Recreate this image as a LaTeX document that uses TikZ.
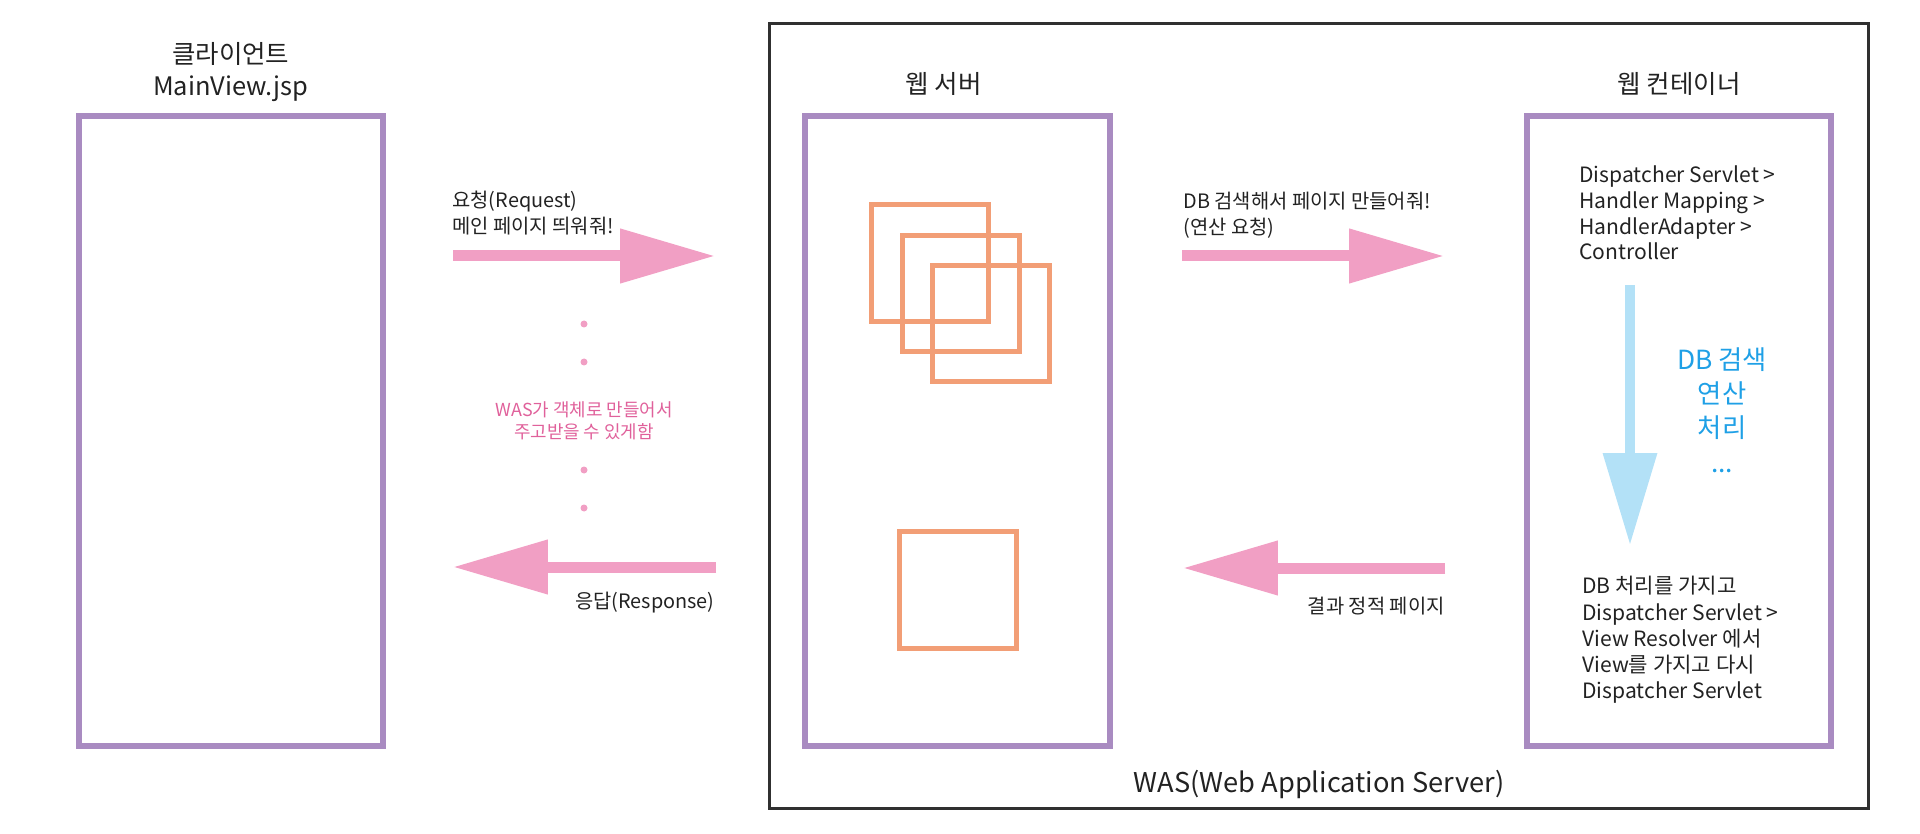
\documentclass[tikz,border=0pt]{standalone}
\usepackage{fontspec}
\setmainfont{Noto Sans CJK KR}
\usetikzlibrary{positioning,arrows.meta}

\definecolor{boxpurple}{HTML}{A98BC1}
\definecolor{sqorange}{HTML}{F29E76}
\definecolor{arrowpink}{HTML}{F19FC4}
\definecolor{notepink}{HTML}{E0619B}
\definecolor{flowblue}{HTML}{B3E1F7}
\definecolor{textblue}{HTML}{1FA0E6}
\definecolor{wasgray}{HTML}{303030}
\definecolor{ink}{HTML}{222222}

\begin{document}
\begin{tikzpicture}[
    x=0.02cm, y=-0.02cm,
    tier/.style={rectangle, draw=boxpurple, line width=0.12cm, minimum width=6.09cm, minimum height=12.59cm, outer sep=0pt},
    sq/.style={rectangle, draw=sqorange, line width=0.1cm, minimum size=2.34cm, outer sep=0pt},
    title/.style={align=center, inner sep=0pt, text=ink, font=\fontsize{14.5}{18}\selectfont},
    lbl/.style={align=left, inner sep=0pt, text=ink, font=\fontsize{11.3}{14.7}\selectfont},
    note/.style={align=center, inner sep=0pt, text=notepink, font=\fontsize{10.2}{12.5}\selectfont},
    fatarrow/.style={line width=0.22cm, draw=arrowpink, -{Triangle[length=1.9cm, width=1.04cm]}},
    downarrow/.style={line width=0.2cm, draw=flowblue, -{Triangle[length=1.84cm, width=1.04cm]}}
]
    \useasboundingbox (0,0) rectangle (1920,834);

    % WAS 테두리
    \node[rectangle, draw=wasgray, line width=0.06cm, minimum width=21.98cm, minimum height=15.71cm, outer sep=0pt] (was) at (1319,416) {};
    \node[title, font=\fontsize{15.5}{18}\selectfont] (waslbl) at (1319,784) {WAS(Web Application Server)};

    % 세 개의 박스
    \node[tier] (client) at (230.75,431) {};
    \node[tier] (websrv) at (957.5,431) {};
    \node[tier] (webcon) at (1679,431) {};

    \node[title, above=0.29cm of client] (clientlbl) {클라이언트\\MainView.jsp};
    \node[title, above=0.4cm of websrv, xshift=-0.28cm] (srvlbl) {웹 서버};
    \node[title, above=0.4cm of webcon] (conlbl) {웹 컨테이너};

    % 웹 서버 안의 네모들
    \foreach \i/\x/\y in {1/930/263, 2/961/293.5, 3/991/323.5}
        \node[sq] (sq\i) at (\x,\y) {};
    \node[sq] (sqpage) at (958,590) {};

    % 화살표 끝점
    \coordinate (reqS) at (453,256);
    \coordinate (reqE) at (715,256);
    \coordinate (resS) at (716,567);
    \coordinate (resE) at (453,567);
    \coordinate (dbS) at (1182,256);
    \coordinate (dbE) at (1444,256);
    \coordinate (retS) at (1445,568);
    \coordinate (retE) at (1183,568);
    \coordinate (flowS) at (1630,285);
    \coordinate (flowE) at (1630,545);

    \draw[fatarrow] (reqS) -- (reqE);
    \draw[fatarrow] (resS) -- (resE);
    \draw[fatarrow] (dbS) -- (dbE);
    \draw[fatarrow] (retS) -- (retE);
    \draw[downarrow] (flowS) -- (flowE);

    % 라벨
    \node[lbl, anchor=west] (reqlbl) at (452,213) {요청(Request)\\메인 페이지 띄워줘!};
    \node[lbl, anchor=east] (reslbl) at (715,603) {응답(Response)};
    \node[lbl, anchor=west] (dblbl) at (1183,215) {DB 검색해서 페이지 만들어줘!\\(연산 요청)};
    \node[lbl, anchor=east] (retlbl) at (1445,606) {결과 정적 페이지};

    \node[lbl, anchor=west, font=\fontsize{12}{14.7}\selectfont] (chain) at (1579,213) {Dispatcher Servlet >\\Handler Mapping >\\HandlerAdapter >\\Controller};
    \node[lbl, anchor=west, font=\fontsize{12}{14.9}\selectfont] (back) at (1582,640) {DB 처리를 가지고\\Dispatcher Servlet >\\View Resolver 에서\\View를 가지고 다시\\Dispatcher Servlet};

    \node[align=center, inner sep=0pt, text=textblue, font=\fontsize{15}{19.6}\selectfont] (dbwork) at (1722,410) {DB 검색\\연산\\처리\\...};

    % 점선 대신 점들
    \foreach \y in {324,362,470,508}
        \fill[arrowpink] (584,\y) circle[radius=0.07cm];
    \node[note] (notelbl) at (584,421) {WAS가 객체로 만들어서\\주고받을 수 있게함};
\end{tikzpicture}
\end{document}
